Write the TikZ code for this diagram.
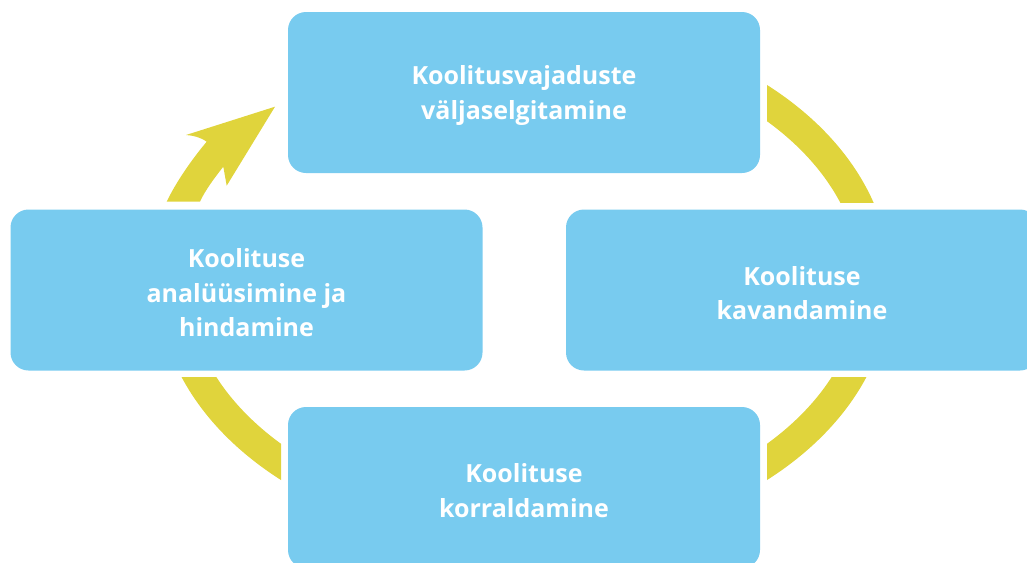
\documentclass[tikz,border=0pt]{standalone}
\usepackage{fontspec}
\setmainfont{Open Sans}
\definecolor{boxblue}{RGB}{120,203,239}
\definecolor{ringyellow}{RGB}{224,212,60}
\begin{document}
\begin{tikzpicture}[x=1pt,y=-1pt,
  stagebox/.style={fill=boxblue, draw=none, rounded corners=18pt,
    minimum width=472pt, minimum height=161pt, inner sep=0pt,
    text=white, align=center,
    font=\fontsize{25}{34.5}\selectfont\bfseries},
  ring/.style={draw=ringyellow, line width=30pt}]
\useasboundingbox (0,0) rectangle (1027,562);
% yellow arcs
\begin{scope}
  \clip (767,0) rectangle (1027,202);
  \draw[ring] (524,282.5) ellipse [x radius=351.6, y radius=248.5];
\end{scope}
\begin{scope}
  \clip (767,377) rectangle (1027,562);
  \draw[ring] (524,282.5) ellipse [x radius=351.6, y radius=248.5];
\end{scope}
\begin{scope}
  \clip (0,377) rectangle (281,562);
  \draw[ring] (524,282.5) ellipse [x radius=351.6, y radius=248.5];
\end{scope}
% arrow with head
\fill[ringyellow] (166.7,201.7) .. controls (176,182) and (192.5,158.5) .. (206.7,141.7)
  .. controls (200,137) and (193,135.5) .. (186,135)
  -- (275,106.7) -- (226.7,185.7) -- (223.3,166.7)
  .. controls (215.9,176) and (204.8,190.7) .. (200,201.7) -- cycle;
% boxes
\node[stagebox] (need) at (524,92.5) {};
\node[stagebox] (plan) at (802,290) {};
\node[stagebox] (run) at (524,487.5) {};
\node[stagebox] (eval) at (246.5,290) {};
% labels
\begin{scope}[every node/.style={text=white, align=center, inner sep=0pt,
    font=\fontsize{25}{34.5}\selectfont\bfseries}]
\node (needt) at ([yshift=-3pt]need.center) {Koolitusvajaduste\\väljaselgitamine};
\node (plant) at ([yshift=-3pt]plan.center) {Koolituse\\kavandamine};
\node (runt) at ([yshift=-3pt]run.center) {Koolituse\\korraldamine};
\node (evalt) at ([yshift=-3pt]eval.center) {Koolituse\\analüüsimine ja\\hindamine};
\end{scope}
\end{tikzpicture}
\end{document}
